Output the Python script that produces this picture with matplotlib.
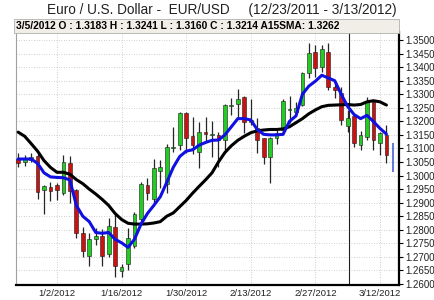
import numpy as np
import matplotlib
matplotlib.use("Agg")
import matplotlib.pyplot as plt

plt.rcParams['font.family'] = ['Liberation Sans', 'DejaVu Sans']

# Daily EUR/USD candles, 12/23/2011 .. 3/13/2012 (trading days)
opens = [1.3060, 1.3050, 1.3058, 1.3072, 1.2945, 1.2958, 1.2965, 1.2937, 1.3048, 1.2945,
         1.2788, 1.2705, 1.2766, 1.2776, 1.2710, 1.2811, 1.2648, 1.2672, 1.2740, 1.2840,
         1.2965, 1.2912, 1.3016, 1.2970, 1.3100, 1.3114, 1.3230, 1.3146, 1.3088, 1.3162,
         1.3148, 1.3148, 1.3132, 1.3258, 1.3263, 1.3290, 1.3199, 1.3174, 1.3137, 1.3070,
         1.3138, 1.3168, 1.3240, 1.3233, 1.3260, 1.3378, 1.3457, 1.3400, 1.3457, 1.3328,
         1.3303, 1.3183, 1.3220, 1.3114, 1.3143, 1.3272, 1.3120, 1.3150]
highs = [1.3085, 1.3076, 1.3085, 1.3080, 1.2965, 1.2978, 1.2972, 1.3076, 1.3072, 1.2950,
         1.2810, 1.2788, 1.2805, 1.2802, 1.2842, 1.2862, 1.2675, 1.2805, 1.2867, 1.2978,
         1.2990, 1.3060, 1.3057, 1.3116, 1.3180, 1.3235, 1.3236, 1.3217, 1.3199, 1.3217,
         1.3200, 1.3160, 1.3265, 1.3285, 1.3318, 1.3292, 1.3282, 1.3211, 1.3140, 1.3142,
         1.3168, 1.3282, 1.3292, 1.3272, 1.3383, 1.3488, 1.3482, 1.3480, 1.3490, 1.3346,
         1.3328, 1.3241, 1.3225, 1.3166, 1.3289, 1.3278, 1.3160, 1.3186]
lows = [1.3030, 1.3035, 1.3050, 1.2912, 1.2857, 1.2905, 1.2910, 1.2930, 1.2898, 1.2770,
        1.2698, 1.2665, 1.2745, 1.2665, 1.2700, 1.2624, 1.2627, 1.2650, 1.2732, 1.2824,
        1.2910, 1.2890, 1.2953, 1.2935, 1.3088, 1.3094, 1.3082, 1.3079, 1.3027, 1.3125,
        1.3067, 1.3030, 1.3094, 1.3223, 1.3211, 1.3156, 1.3186, 1.3082, 1.3043, 1.2974,
        1.3116, 1.3152, 1.3193, 1.3230, 1.3255, 1.3359, 1.3365, 1.3383, 1.3316, 1.3285,
        1.3186, 1.3160, 1.3104, 1.3094, 1.3130, 1.3094, 1.3076, 1.3048]
closes = [1.3045, 1.3060, 1.3068, 1.2940, 1.2960, 1.2942, 1.2945, 1.3050, 1.2942, 1.2787,
          1.2720, 1.2765, 1.2776, 1.2705, 1.2815, 1.2665, 1.2663, 1.2768, 1.2860, 1.2968,
          1.2935, 1.3027, 1.3030, 1.3104, 1.3102, 1.3232, 1.3137, 1.3113, 1.3162, 1.3152,
          1.3151, 1.3132, 1.3260, 1.3262, 1.3281, 1.3199, 1.3205, 1.3131, 1.3070, 1.3137,
          1.3156, 1.3276, 1.3244, 1.3248, 1.3377, 1.3453, 1.3396, 1.3466, 1.3328, 1.3316,
          1.3205, 1.3214, 1.3119, 1.3150, 1.3272, 1.3131, 1.3158, 1.3076]

# 15-day SMA (black) and short MA (blue)
sma15 = [1.3160, 1.3145, 1.3118, 1.3090, 1.3055, 1.3030, 1.3012, 1.3012, 1.3005, 1.2985,
         1.2970, 1.2950, 1.2932, 1.2912, 1.2890, 1.2860, 1.2838, 1.2824, 1.2821, 1.2821,
         1.2822, 1.2825, 1.2830, 1.2850, 1.2862, 1.2885, 1.2908, 1.2935, 1.2960, 1.2984,
         1.3010, 1.3050, 1.3085, 1.3110, 1.3130, 1.3145, 1.3158, 1.3165, 1.3168, 1.3170,
         1.3170, 1.3172, 1.3180, 1.3195, 1.3210, 1.3228, 1.3242, 1.3254, 1.3259, 1.3260,
         1.3261, 1.3262, 1.3260, 1.3262, 1.3272, 1.3276, 1.3272, 1.3260]
ma_fast = [1.3061, 1.3061, 1.3061, 1.3045, 1.3010, 1.2995, 1.2993, 1.2992, 1.2984, 1.2890,
           1.2850, 1.2830, 1.2790, 1.2787, 1.2790, 1.2765, 1.2752, 1.2735, 1.2765, 1.2820,
           1.2860, 1.2890, 1.2922, 1.2975, 1.3030, 1.3070, 1.3090, 1.3095, 1.3112, 1.3122,
           1.3130, 1.3131, 1.3150, 1.3180, 1.3210, 1.3210, 1.3205, 1.3170, 1.3152, 1.3150,
           1.3150, 1.3152, 1.3200, 1.3220, 1.3300, 1.3330, 1.3348, 1.3370, 1.3360, 1.3350,
           1.3300, 1.3255, 1.3225, 1.3210, 1.3222, 1.3199, 1.3174, 1.3153]

# partial last bar (blue)
last_bar = (1.3119, 1.3014)

tick_idx = [6, 16, 26, 36, 46, 56]
tick_labels = ["1/2/2012", "1/16/2012", "1/30/2012", "2/13/2012", "2/27/2012", "3/12/2012"]
y_ticks = np.round(np.arange(1.26, 1.3501, 0.005), 4)

o = np.array(opens); h = np.array(highs); l = np.array(lows); c = np.array(closes)
x = np.arange(len(o))

fig = plt.figure(figsize=(4.34, 3.0), dpi=100)
ax = fig.add_axes([16/434, 15/300, 383/434, 253/300])

# grid
for yv in y_ticks:
    ax.axhline(yv, color='#c0c0c0', lw=0.6, ls=(0, (1, 2)), zorder=0)
for xv in tick_idx:
    ax.axvline(xv, color='#c0c0c0', lw=0.6, ls=(0, (1, 2)), zorder=0)

# crosshair on 3/5/2012
ax.axvline(51.2, color='#202020', lw=0.8, zorder=1)

# candles
up = c >= o
ax.vlines(x, l, h, color='#262626', lw=0.9, zorder=2)
body_bot = np.minimum(o, c)
body_h = np.maximum(np.abs(c - o), 0.0004)
ax.bar(x[up], body_h[up], bottom=body_bot[up], width=0.58,
       color='#22cc22', edgecolor='#1a1a1a', lw=0.4, zorder=3)
ax.bar(x[~up], body_h[~up], bottom=body_bot[~up], width=0.58,
       color='#cc1111', edgecolor='#1a1a1a', lw=0.4, zorder=3)

ax.vlines(len(o), last_bar[1], last_bar[0], color='#3355cc', lw=1.1, zorder=3)

# moving averages
ax.plot(x, sma15, color='black', lw=2.2, zorder=4, solid_capstyle='round')
ax.plot(x, ma_fast, color='#1010e0', lw=2.2, zorder=5, solid_capstyle='round')

ax.set_xlim(-0.34, 58.95)
ax.set_ylim(1.25963, 1.35295)

ax.yaxis.tick_right()
ax.set_yticks(y_ticks)
ax.set_yticklabels([f"{v:.4f}" for v in y_ticks], fontsize=7, color='#222222')
ax.set_xticks(tick_idx)
ax.set_xticklabels(tick_labels, fontsize=6.8, color='#222222')
ax.tick_params(axis='y', length=3, width=0.8, pad=1.5, right=True, left=False)
ax.tick_params(axis='x', length=0, pad=3)

ax.spines['top'].set_visible(False)
ax.spines['left'].set_color('#a0a0a0')
ax.spines['left'].set_linewidth(0.8)
ax.spines['bottom'].set_color('black')
ax.spines['bottom'].set_linewidth(1.6)
ax.spines['right'].set_color('black')
ax.spines['right'].set_linewidth(1.6)

# header info box
fig.patches.append(plt.Rectangle((14/434, (300-33)/300), 385/434, 14/300,
                                 transform=fig.transFigure, facecolor='#f0eee6',
                                 edgecolor='#b0b0b0', lw=0.6, zorder=5))
fig.text(16/434, (300-26)/300,
         "3/5/2012 O : 1.3183 H : 1.3241 L : 1.3160 C : 1.3214 A15SMA: 1.3262",
         fontsize=7.4, fontweight='bold', va='center', ha='left', zorder=6)

fig.text(0.51, (300-10)/300, "Euro / U.S. Dollar -  EUR/USD     (12/23/2011 - 3/13/2012)",
         fontsize=9.8, ha='center', va='center', color='#222222')

fig.savefig("out.png", dpi=100)
